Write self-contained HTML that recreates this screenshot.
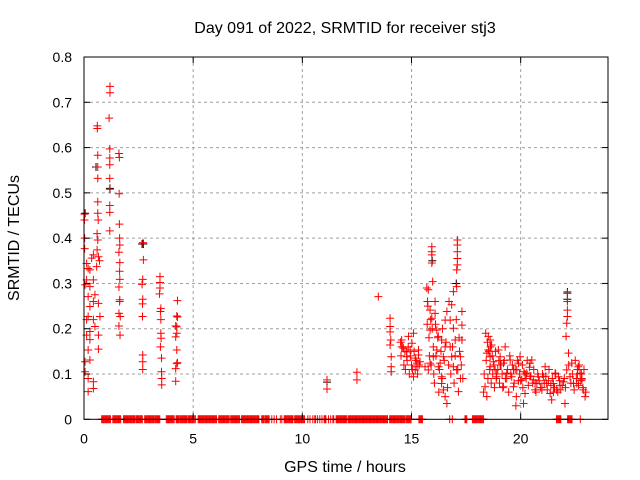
<!DOCTYPE html>
<html><head><meta charset="utf-8"><style>
html,body{margin:0;padding:0;background:#fff}
svg{display:block;font-family:"Liberation Sans",sans-serif}
</style></head><body>
<svg id="chart" width="640" height="480" viewBox="0 0 640 480" xmlns="http://www.w3.org/2000/svg">
<rect x="0" y="0" width="640" height="480" fill="#fff"/>
<g id="grid"></g>
<g id="blackpts"></g>
<g id="redpts"></g>
<g id="axes"></g>
<text x="345" y="33" text-anchor="middle" font-size="16">Day 091 of 2022, SRMTID for receiver stj3</text>
<text x="345" y="472" text-anchor="middle" font-size="16">GPS time / hours</text>
<text transform="translate(19,238) rotate(-90)" text-anchor="middle" font-size="16">SRMTID / TECUs</text>
</svg>
<script>
const xTicks=[0,5,10,15,20];
const xTickLabels=["0","5","10","15","20"];
const yTicks=[0,0.1,0.2,0.3,0.4,0.5,0.6,0.7,0.8];
const yTickLabels=["0","0.1","0.2","0.3","0.4","0.5","0.6","0.7","0.8"];
const zeroSegments=[[0.81,1.23],[1.32,1.69],[1.81,2.35],[2.39,2.68],[2.78,3.24],[3.27,3.5],[3.77,4.14],[4.22,4.34],[4.39,4.72],[4.77,5.06],[5.1,5.1],[5.23,6.1],[6.17,6.66],[6.72,7.15],[7.21,8.02],[8.14,8.22],[8.28,8.48],[8.6,8.6],[8.71,8.71],[8.82,8.82],[8.99,8.99],[9.06,9.06],[9.17,9.57],[9.65,9.89],[9.94,10.11],[10.25,10.25],[10.35,10.35],[10.48,10.48],[10.57,10.63],[10.7,10.7],[10.8,10.8],[10.9,10.9],[11.0,11.09],[11.2,11.2],[11.3,11.3],[11.4,11.47],[11.55,12.04],[12.1,13.93],[14.0,14.69],[14.74,15.0],[15.34,15.52],[16.75,16.75],[16.87,16.87],[17.45,17.53],[17.79,17.99],[18.02,18.33],[21.64,21.86],[22.15,22.36],[22.73,22.73]];
const redTimes=[1.19,1.19,1.15,0.61,0.61,1.18,1.18,1.18,1.18,1.18,1.18,1.18,1.18,0.63,0.63,0.63,0.63,0.63,0.65,0.6,0.63,0.6,0.66,0.58,0.71,0.02,0.02,0.03,0.03,1.6,1.62,1.61,1.62,1.63,1.64,1.6,1.64,1.63,1.64,1.6,1.64,1.63,1.6,1.66,1.6,1.65,2.7,2.72,2.69,2.66,2.69,2.68,2.68,2.69,2.69,2.69,3.48,3.48,3.48,3.46,3.52,3.5,3.52,3.52,3.53,3.5,3.55,3.55,3.56,3.56,4.28,4.25,4.28,4.25,4.2,4.25,4.2,4.25,4.25,4.28,4.2,4.2,0.12,0.19,0.35,0.43,0.27,0.12,0.05,0.27,0.43,0.5,0.19,0.27,0.43,0.66,0.73,0.19,0.12,0.43,0.5,0.27,0.27,0.12,0.66,0.66,0.19,0.05,0.27,0.05,0.19,0.43,0.43,0.19,11.13,11.13,12.5,12.5,13.48,14.02,14.02,14.02,14.05,14.02,14.07,14.07,14.07,14.55,14.55,14.63,14.78,14.78,14.86,14.94,15.02,15.09,15.17,15.25,15.17,15.09,15.32,15.39,15.32,15.25,15.93,15.93,15.93,15.93,15.97,15.77,15.73,16.08,15.85,16.08,15.93,16.16,15.85,16.23,16.38,16.16,16.0,15.85,15.62,15.77,16.23,16.38,16.38,16.46,16.54,16.62,16.31,16.46,16.54,16.54,16.62,17.1,17.1,17.1,17.1,17.1,17.07,17.07,16.92,16.84,16.77,16.92,17.0,16.77,16.84,16.92,17.07,17.24,17.31,17.31,17.31,17.24,17.15,18.37,18.45,18.52,18.6,18.52,18.67,18.6,18.75,18.83,18.9,18.98,19.06,19.21,19.29,19.36,19.21,19.52,19.59,19.67,19.82,19.9,19.97,20.05,20.13,20.2,20.28,20.43,20.51,20.58,20.66,20.74,20.81,20.97,21.04,21.12,21.19,21.35,21.42,21.5,21.58,21.65,21.73,21.81,21.96,22.03,22.11,22.19,22.26,22.34,22.42,22.57,22.64,22.72,22.8,22.87,22.95,22.14,22.14,22.14,22.14,22.11,22.08,18.45,18.6,18.9,19.06,19.36,19.67,19.9,20.2,20.43,20.66,20.97,21.27,21.5,21.8,22.6,22.8,
18.3,18.33,18.4,18.42,18.48,18.5,18.55,18.58,18.62,18.65,18.7,18.72,18.78,18.8,18.85,18.88,18.95,19.0,19.03,19.1,19.15,19.18,19.25,19.3,19.4,19.45,19.5,19.55,19.62,19.7,19.75,19.78,19.8,19.85,19.95,20.0,20.08,20.1,20.15,20.25,20.3,20.35,20.4,20.47,20.55,20.6,20.7,20.78,20.85,20.9,21.0,21.08,21.15,21.22,21.3,21.38,21.45,21.55,21.6,21.7,21.78,21.9,22.0,22.05,22.2,22.3,22.38,22.45,22.5,22.55,22.6,22.65,22.68,22.75,22.78,22.85,22.9,22.98,
14.5,14.52,14.6,14.65,14.7,14.72,14.8,14.85,14.9,14.95,15.0,15.05,15.12,15.2,15.28,15.35,15.7,15.72,15.75,15.8,15.82,15.88,15.9,15.95,16.0,16.02,16.05,16.1,16.12,16.2,16.25,16.28,16.35,16.4,16.42,16.5,16.58,16.65,16.7,16.72,16.8,16.88,16.95,17.0,17.05,17.12,17.18,17.2,17.28,17.35];
const redValues=[0.735,0.721,0.665,0.648,0.642,0.597,0.577,0.562,0.532,0.508,0.472,0.457,0.416,0.583,0.557,0.532,0.48,0.455,0.44,0.41,0.396,0.374,0.359,0.337,0.35,0.453,0.44,0.4,0.377,0.587,0.578,0.498,0.431,0.4,0.385,0.369,0.346,0.327,0.309,0.292,0.264,0.26,0.234,0.227,0.206,0.186,0.39,0.352,0.309,0.298,0.265,0.255,0.227,0.142,0.127,0.11,0.315,0.302,0.29,0.277,0.245,0.238,0.22,0.19,0.179,0.16,0.135,0.105,0.09,0.076,0.262,0.228,0.226,0.204,0.206,0.19,0.182,0.153,0.123,0.125,0.112,0.084,0.344,0.333,0.356,0.363,0.33,0.308,0.297,0.293,0.308,0.275,0.271,0.249,0.26,0.256,0.227,0.227,0.22,0.22,0.205,0.194,0.176,0.186,0.186,0.155,0.153,0.127,0.131,0.105,0.09,0.083,0.068,0.061,0.087,0.067,0.104,0.087,0.271,0.223,0.205,0.193,0.175,0.164,0.138,0.116,0.105,0.175,0.16,0.157,0.149,0.138,0.183,0.153,0.168,0.19,0.135,0.124,0.109,0.094,0.153,0.127,0.142,0.116,0.381,0.37,0.363,0.345,0.304,0.286,0.26,0.26,0.241,0.234,0.223,0.197,0.197,0.183,0.175,0.153,0.138,0.124,0.116,0.109,0.116,0.094,0.079,0.065,0.05,0.035,0.124,0.138,0.16,0.219,0.238,0.396,0.385,0.37,0.355,0.341,0.33,0.293,0.282,0.253,0.219,0.201,0.175,0.16,0.138,0.116,0.109,0.138,0.175,0.208,0.238,0.09,0.061,0.072,0.05,0.183,0.175,0.153,0.164,0.138,0.127,0.109,0.094,0.153,0.138,0.124,0.16,0.102,0.072,0.131,0.094,0.072,0.109,0.124,0.138,0.087,0.035,0.057,0.102,0.124,0.131,0.087,0.065,0.079,0.094,0.065,0.094,0.116,0.079,0.057,0.043,0.079,0.102,0.065,0.094,0.065,0.083,0.035,0.109,0.146,0.094,0.124,0.079,0.079,0.116,0.102,0.087,0.065,0.05,0.278,0.26,0.241,0.227,0.212,0.183,0.146,0.116,0.1,0.12,0.09,0.11,0.085,0.1,0.095,0.08,0.07,0.085,0.06,0.075,0.1,0.09,
0.06,0.1,0.19,0.13,0.17,0.09,0.15,0.11,0.16,0.08,0.14,0.1,0.12,0.07,0.15,0.09,0.11,0.13,0.08,0.12,0.1,0.07,0.13,0.09,0.11,0.06,0.14,0.1,0.12,0.08,0.11,0.03,0.05,0.13,0.1,0.085,0.12,0.07,0.105,0.09,0.13,0.075,0.115,0.095,0.08,0.11,0.06,0.1,0.085,0.07,0.1,0.08,0.095,0.065,0.11,0.075,0.09,0.07,0.1,0.06,0.085,0.075,0.09,0.07,0.12,0.08,0.1,0.065,0.13,0.09,0.11,0.075,0.12,0.085,0.1,0.07,0.11,0.06,
0.17,0.14,0.16,0.12,0.15,0.11,0.13,0.16,0.1,0.14,0.12,0.11,0.15,0.13,0.1,0.12,0.29,0.21,0.25,0.18,0.14,0.22,0.12,0.2,0.16,0.1,0.08,0.21,0.14,0.18,0.06,0.11,0.15,0.09,0.2,0.13,0.17,0.07,0.12,0.26,0.1,0.16,0.08,0.14,0.22,0.11,0.18,0.15,0.12,0.09];
const blackTimes=[2.66,2.72,1.19,0.55,0.05,11.13,22.14,22.14,15.95,17.05];
const blackValues=[0.387,0.387,0.51,0.557,0.455,0.082,0.281,0.265,0.35,0.3];

const X0=84,XW=524,XMAX=24,Y0=419.3,YH=362.3,YMAX=0.8;
function xs(h){return X0+h/XMAX*XW;}
function ys(v){return Y0-v/YMAX*YH;}
const NS="http://www.w3.org/2000/svg";
function mk(tag,parent){const e=document.createElementNS(NS,tag);parent.appendChild(e);return e;}
const grid=document.getElementById('grid'),axes=document.getElementById('axes');
const red=document.getElementById('redpts'),blk=document.getElementById('blackpts');
xTicks.forEach((t,i)=>{
  const x=xs(t);
  if(t>0){const g=mk('line',grid);
    
    
    g.setAttribute('x1',x);g.setAttribute('x2',x);g.setAttribute('y1',ys(YMAX));g.setAttribute('y2',Y0);
    g.setAttribute('stroke','#a0a0a0');g.setAttribute('stroke-dasharray','3,3');}
  [[Y0,Y0-6],[ys(YMAX),ys(YMAX)+6]].forEach(p=>{const l=mk('line',axes);
    
    
    l.setAttribute('x1',x);l.setAttribute('x2',x);l.setAttribute('y1',p[0]);l.setAttribute('y2',p[1]);l.setAttribute('stroke','#000');});
  const tx=mk('text',axes);
  
  
  tx.setAttribute('x',x);tx.setAttribute('y',Y0+24);tx.setAttribute('text-anchor','middle');tx.setAttribute('font-size','14');
  tx.textContent=xTickLabels[i];
});
yTicks.forEach((t,i)=>{
  const y=ys(t);
  if(t>0&&t<YMAX){const g=mk('line',grid);
    
    
    g.setAttribute('x1',X0);g.setAttribute('x2',X0+XW);g.setAttribute('y1',y);g.setAttribute('y2',y);
    g.setAttribute('stroke','#a0a0a0');g.setAttribute('stroke-dasharray','3,3');}
  [[X0,X0+6],[X0+XW,X0+XW-6]].forEach(p=>{const l=mk('line',axes);
    
    
    l.setAttribute('x1',p[0]);l.setAttribute('x2',p[1]);l.setAttribute('y1',y);l.setAttribute('y2',y);l.setAttribute('stroke','#000');});
  const tx=mk('text',axes);
  
  
  tx.setAttribute('x',X0-12);tx.setAttribute('y',y+5);tx.setAttribute('text-anchor','end');tx.setAttribute('font-size','14');
  tx.textContent=yTickLabels[i];
});
const frame=mk('rect',axes);


frame.setAttribute('x',X0);frame.setAttribute('y',ys(YMAX));frame.setAttribute('width',XW);frame.setAttribute('height',YH);
frame.setAttribute('fill','none');frame.setAttribute('stroke','#000');
function cross(parent,h,v,color,name){
  const x=xs(h),y=ys(v);const p=mk('path',parent);
  
  
  p.setAttribute('d','M'+(x-4)+' '+y+'H'+(x+4)+'M'+x+' '+(y-4)+'V'+(y+4));
  p.setAttribute('stroke',color);p.setAttribute('stroke-width','1');p.setAttribute('fill','none');
}
blackTimes.forEach((h,i)=>cross(blk,h,blackValues[i],'#000','black-point'));
redTimes.forEach((h,i)=>cross(red,h,redValues[i],'#ff0000','red-point'));
zeroSegments.forEach(s=>{for(let h=s[0];h<=s[1]+1e-9;h+=0.04){cross(red,h,0,'#ff0000','zero-point');}});
</script>
</body></html>
